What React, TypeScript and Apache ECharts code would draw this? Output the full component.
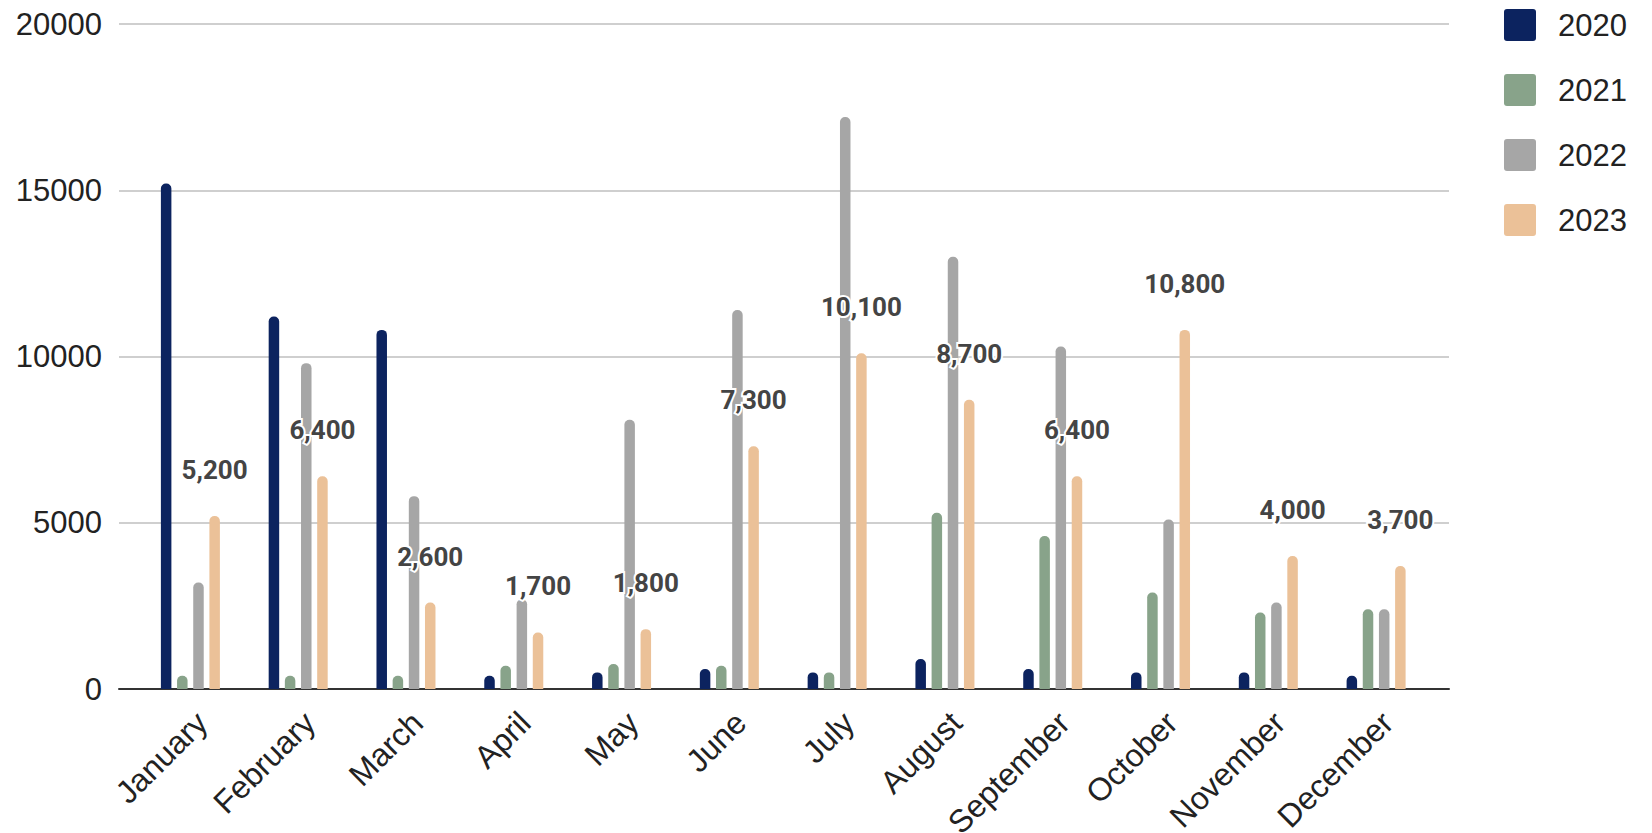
import React, { useEffect, useRef } from "react";
import * as echarts from "echarts";

const months = ["January", "February", "March", "April", "May", "June", "July", "August", "September", "October", "November", "December"];
const years = ["2020", "2021", "2022", "2023"];
const v2020 = [15200, 11200, 10800, 400, 500, 600, 500, 900, 600, 500, 500, 400];
const v2021 = [400, 400, 400, 700, 750, 700, 500, 5300, 4600, 2900, 2300, 2400];
const v2022 = [3200, 9800, 5800, 2700, 8100, 11400, 17200, 13000, 10300, 5100, 2600, 2400];
const v2023 = [5200, 6400, 2600, 1700, 1800, 7300, 10100, 8700, 6400, 10800, 4000, 3700];
const yTicks = { min: 0, max: 20000, interval: 5000 };
const colors = ["#0c235f", "#88a38a", "#a6a6a6", "#ebc198"];

export default function App() {
  const ref = useRef<HTMLDivElement>(null);
  useEffect(() => {
    if (!ref.current) return;
    const chart = echarts.init(ref.current, undefined, { renderer: "svg" });
    const seriesData = [v2020, v2021, v2022, v2023];
    const axisFont = "'Liberation Sans', Arial, sans-serif";
    chart.setOption({
      animation: false,
      backgroundColor: "#ffffff",
      legend: {
        orient: "vertical",
        left: 1499,
        top: 4,
        itemWidth: 32,
        itemHeight: 32,
        itemGap: 33,
        icon: "path://M3,0 H29 Q32,0 32,3 V29 Q32,32 29,32 H3 Q0,32 0,29 V3 Q0,0 3,0 Z",
        data: years,
        textStyle: { fontSize: 31, color: "#222", fontFamily: axisFont, padding: [0, 0, 0, 17] },
      },
      grid: [
        { left: 119, right: 203, top: 24, bottom: 144, containLabel: false, outerBoundsMode: "none" },
        { left: 136.5, right: 222, top: 24, bottom: 144, containLabel: false, outerBoundsMode: "none" },
      ],
      xAxis: [
        {
          gridIndex: 0,
          type: "value",
          min: 0,
          max: 1,
          axisLine: { show: true, lineStyle: { color: "#333", width: 2 } },
          axisTick: { show: false },
          axisLabel: { show: false },
          splitLine: { show: false },
        },
        {
          gridIndex: 1,
          type: "category",
          data: months,
          axisLine: { show: false },
          axisTick: { show: false },
          axisLabel: {
            interval: 0,
            rotate: 45,
            margin: 17,
            verticalAlign: "top",
            fontSize: 32,
            color: "#222",
            fontFamily: axisFont,
          },
        },
      ],
      yAxis: [
        {
          gridIndex: 0,
          type: "value",
          min: yTicks.min,
          max: yTicks.max,
          interval: yTicks.interval,
          axisLine: { show: false },
          axisTick: { show: false },
          axisLabel: {
            margin: 17,
            fontSize: 31,
            color: "#222",
            fontFamily: axisFont,
            formatter: (v: number) => String(v),
          },
          splitLine: { show: true, lineStyle: { color: "#cfcfcf", width: 2 } },
        },
        {
          gridIndex: 1,
          type: "value",
          min: yTicks.min,
          max: yTicks.max,
          interval: yTicks.interval,
          show: false,
          splitLine: { show: false },
        },
      ],
      series: years.map((y, i) => ({
        name: y,
        type: "bar",
        xAxisIndex: 1,
        yAxisIndex: 1,
        data: seriesData[i],
        barWidth: 10.5,
        barGap: "54%",
        itemStyle: { color: colors[i], borderRadius: [5, 5, 0, 0] },
        label:
          i === 3
            ? {
                show: true,
                position: "top",
                distance: 33,
                formatter: (p: any) => Number(p.value).toLocaleString("en-US"),
                fontSize: 26,
                fontWeight: "bold",
                fontFamily: "Roboto, sans-serif",
                color: "#444",
                textBorderColor: "#fff",
                textBorderWidth: 4,
              }
            : { show: false },
      })),
    });
    return () => chart.dispose();
  }, []);
  return <div ref={ref} style={{ position: "fixed", left: 0, top: 0, width: 1652, height: 833 }} />;
}
